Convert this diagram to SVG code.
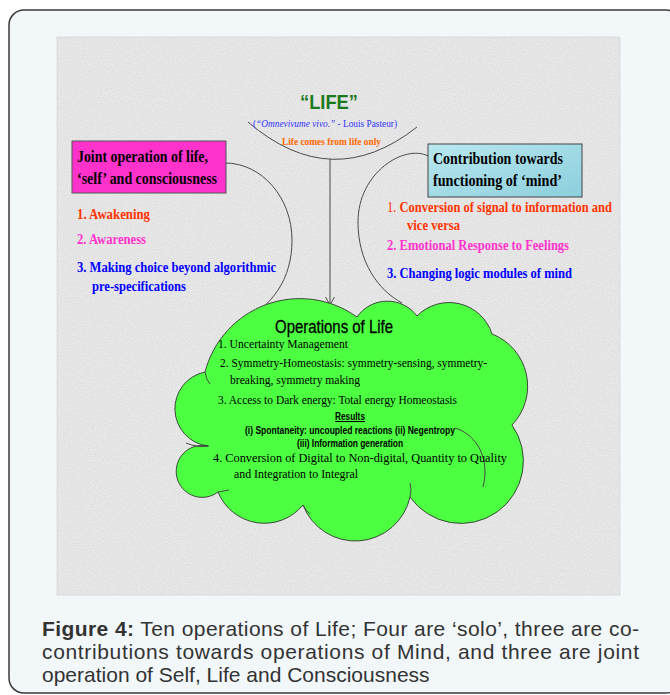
<svg xmlns="http://www.w3.org/2000/svg" width="670" height="695" viewBox="0 0 670 695">
<defs>
<filter id="noise" x="0" y="0" width="100%" height="100%">
<feTurbulence type="fractalNoise" baseFrequency="0.85" numOctaves="2" seed="7" result="t"/>
<feColorMatrix in="t" type="matrix" values="0 0 0 0 0.62  0 0 0 0 0.62  0 0 0 0 0.62  1.3 0 0 0 -0.45"/>
</filter>
<linearGradient id="aqua" x1="0" y1="0" x2="1" y2="1">
<stop offset="0" stop-color="#b9e8f0"/>
<stop offset="0.5" stop-color="#a2dbe6"/>
<stop offset="1" stop-color="#8ccfdd"/>
</linearGradient>
<style>
.serif{font-family:"Liberation Serif","Times New Roman",serif}
.sans{font-family:"Liberation Sans",Arial,sans-serif}
.b{font-weight:bold}
.title{font-family:"Liberation Serif","Times New Roman",serif;font-weight:bold;font-size:17px;fill:#000}
.li{font-family:"Liberation Serif","Times New Roman",serif;font-weight:bold;font-size:14px}
.red{fill:#ff3300}
.mag{fill:#ff33cc}
.blue{fill:#0000ff}
.ct{font-family:"Liberation Serif","Times New Roman",serif;font-size:13.5px;fill:#000}
.res{font-family:"Liberation Sans",Arial,sans-serif;font-weight:bold;font-size:10.5px;fill:#000}
.conn{fill:none;stroke:#4a4a4a;stroke-width:1}
.cap{font-family:"Liberation Sans",Arial,sans-serif;font-size:21px;fill:#333}
</style>
</defs>

<g id="frame">
<rect x="9" y="10" width="672" height="683" rx="15" fill="#f2f7fa" stroke="#3a3a3a" stroke-width="1.5"/>
<rect x="57" y="37" width="563" height="558" fill="#e9e9e9" stroke="#d0d0d0" stroke-width="0.6"/>
<rect x="57" y="37" width="563" height="558" filter="url(#noise)" opacity="0.8"/>
</g>

<g id="connectors">
<path class="conn" d="M248,122 Q332,194 417,127"/>
<path class="conn" d="M330,159 L330,304"/>
<path class="conn" d="M325.5,297 L330,305 L334.5,297"/>
<path class="conn" d="M225,163 C262,163 292,198 292,240 C292,280 272,306 240,323"/>
<path class="conn" d="M428,156 C405,144 358,172 358,222 C358,262 378,290 402,303"/>
</g>

<g id="life">
<text class="sans b" x="329" y="109" font-size="21" text-anchor="middle" fill="#1e7a1e" textLength="58" lengthAdjust="spacingAndGlyphs">“LIFE”</text>
<text class="serif" x="253" y="127" font-size="10" fill="#3333ff" textLength="144" lengthAdjust="spacingAndGlyphs">(<tspan font-style="italic">“Omnevivume vivo.”</tspan> - Louis Pasteur)</text>
<text class="serif b" x="282" y="145" font-size="10" fill="#ff6600" textLength="99" lengthAdjust="spacingAndGlyphs">Life comes from life only</text>
</g>

<g id="joint">
<rect x="72" y="141" width="154" height="52" fill="#ff33cc" stroke="#555" stroke-width="1"/>
<text class="title" x="77" y="162" textLength="131" lengthAdjust="spacingAndGlyphs">Joint operation of life,</text>
<text class="title" x="77" y="184" textLength="140" lengthAdjust="spacingAndGlyphs">‘self’ and consciousness</text>
<text class="li red" x="77" y="219" textLength="73" lengthAdjust="spacingAndGlyphs">1. Awakening</text>
<text class="li mag" x="77" y="244" textLength="69" lengthAdjust="spacingAndGlyphs">2. Awareness</text>
<text class="li blue" x="77" y="272" textLength="199" lengthAdjust="spacingAndGlyphs">3. Making choice beyond algorithmic</text>
<text class="li blue" x="92" y="291" textLength="94" lengthAdjust="spacingAndGlyphs">pre-specifications</text>
</g>

<g id="mind">
<rect x="428" y="144" width="154" height="53" fill="url(#aqua)" stroke="#444" stroke-width="1"/>
<text class="title" x="433" y="164" textLength="130" lengthAdjust="spacingAndGlyphs">Contribution towards</text>
<text class="title" x="433" y="186" textLength="129" lengthAdjust="spacingAndGlyphs">functioning of ‘mind’</text>
<text class="li red" x="387" y="212" textLength="225" lengthAdjust="spacingAndGlyphs"><tspan font-weight="normal">1. </tspan>Conversion of signal to information and</text>
<text class="li red" x="407" y="230" textLength="53" lengthAdjust="spacingAndGlyphs">vice versa</text>
<text class="li mag" x="387" y="250" textLength="182" lengthAdjust="spacingAndGlyphs">2. Emotional Response to Feelings</text>
<text class="li blue" x="387" y="278" textLength="185" lengthAdjust="spacingAndGlyphs">3. Changing logic modules of mind</text>
</g>

<g id="operations">
<path d="M205,372 A98,98 0 0 1 357,317 A37,37 0 0 1 417,316 A45,45 0 0 1 492,334 A56,56 0 0 1 512,425 A60,60 0 0 1 410,497 A56,56 0 0 1 303,505 A50,50 0 0 1 218,492 A26,26 0 1 1 208,446 A37.5,37.5 0 0 1 205,372 Z" fill="#4cff40" stroke="#333" stroke-width="0.9"/>
<path class="conn" d="M455,428 C478,435 490,460 483,487"/>
<path class="conn" d="M186,443 Q198,448 209,446"/>
<path class="conn" d="M218,492 L229,490"/>
<path class="conn" d="M303,505 Q306,511 310,514"/>
<path class="conn" d="M410,497 Q412,489 410,483"/>
<path class="conn" d="M205,372 Q206,380 210,384"/>
<text class="sans" x="334" y="333" font-size="19" text-anchor="middle" fill="#000" stroke="#000" stroke-width="0.3" textLength="118" lengthAdjust="spacingAndGlyphs">Operations of Life</text>
<text class="ct" x="218" y="348" textLength="130" lengthAdjust="spacingAndGlyphs">1. Uncertainty Management</text>
<text class="ct" x="220" y="367" textLength="267" lengthAdjust="spacingAndGlyphs">2. Symmetry-Homeostasis: symmetry-sensing, symmetry-</text>
<text class="ct" x="230" y="384" textLength="130" lengthAdjust="spacingAndGlyphs">breaking, symmetry making</text>
<text class="ct" x="218" y="404" textLength="239" lengthAdjust="spacingAndGlyphs">3. Access to Dark energy: Total energy Homeostasis</text>
<text class="res" x="350" y="420" text-anchor="middle" text-decoration="underline" textLength="30" lengthAdjust="spacingAndGlyphs">Results</text>
<text class="res" x="350" y="434" text-anchor="middle" textLength="210" lengthAdjust="spacingAndGlyphs">(i) Spontaneity: uncoupled reactions (ii) Negentropy</text>
<text class="res" x="350" y="447" text-anchor="middle" textLength="106" lengthAdjust="spacingAndGlyphs">(iii) Information generation</text>
<text class="ct" x="213" y="462" textLength="294" lengthAdjust="spacingAndGlyphs">4. Conversion of Digital to Non-digital, Quantity to Quality</text>
<text class="ct" x="234" y="478" textLength="124" lengthAdjust="spacingAndGlyphs">and Integration to Integral</text>
</g>

<g id="caption">
<text class="cap" x="42" y="636" textLength="597" lengthAdjust="spacing"><tspan font-weight="bold">Figure 4:</tspan> Ten operations of Life; Four are ‘solo’, three are co-</text>
<text class="cap" x="42" y="659" textLength="597" lengthAdjust="spacing">contributions towards operations of Mind, and three are joint</text>
<text class="cap" x="42" y="682">operation of Self, Life and Consciousness</text>
</g>
</svg>
